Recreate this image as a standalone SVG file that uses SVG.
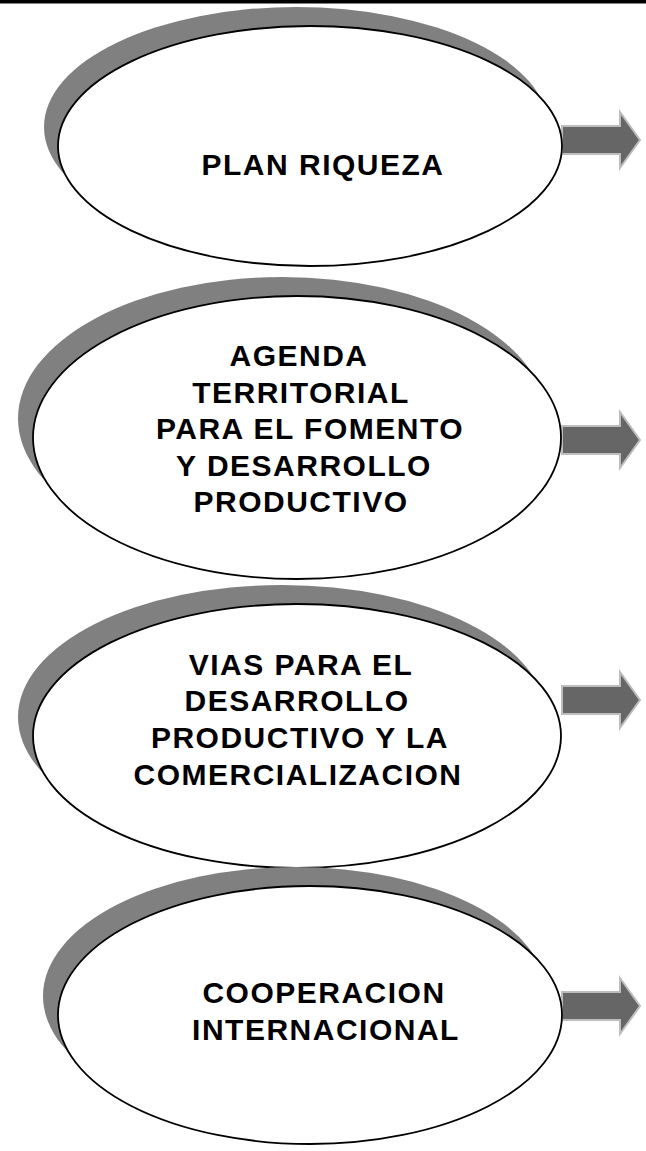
<svg xmlns="http://www.w3.org/2000/svg" width="646" height="1151" viewBox="0 0 646 1151">
<style>
.shadow{fill:#808080;stroke:none}
.main{fill:#ffffff;stroke:#000000;stroke-width:1.8}
.arrow{fill:#666666;stroke:#bdbdbd;stroke-width:2;stroke-linejoin:miter}
.lbl{font-family:"Liberation Sans",Arial,sans-serif;font-weight:bold;font-size:30px;letter-spacing:1.5px;fill:#000;text-anchor:middle}
</style>
<rect x="0" y="0" width="646" height="1151" fill="#ffffff"/>
<line x1="0" y1="1.7" x2="646" y2="1.7" stroke="#000" stroke-width="3.4"/>
<g id="connectors">
<path class="arrow" d="M562,126 H620 V112 L640,140 L620,168 V154 H562 Z"/>
<path class="arrow" d="M562,426 H620 V412 L640,440 L620,468 V454 H562 Z"/>
<path class="arrow" d="M562,686 H620 V672 L640,700 L620,728 V714 H562 Z"/>
<path class="arrow" d="M562,992 H620 V978 L640,1006 L620,1034 V1020 H562 Z"/>
</g>
<g id="node1">
<ellipse class="shadow" cx="296" cy="127" rx="252" ry="120"/>
<ellipse class="main" cx="310" cy="146" rx="252" ry="120"/>
<text class="lbl" x="323" y="175">PLAN RIQUEZA</text>
</g>
<g id="node2">
<ellipse class="shadow" cx="282" cy="418.5" rx="264" ry="141.5"/>
<ellipse class="main" cx="297" cy="437.5" rx="264" ry="141.5"/>
<text class="lbl" x="299" y="366">AGENDA</text>
<text class="lbl" x="301" y="403">TERRITORIAL</text>
<text class="lbl" x="310" y="439">PARA EL FOMENTO</text>
<text class="lbl" x="304" y="476">Y DESARROLLO</text>
<text class="lbl" x="301" y="512">PRODUCTIVO</text>
</g>
<g id="node3">
<ellipse class="shadow" cx="282" cy="717" rx="264" ry="132"/>
<ellipse class="main" cx="297" cy="736" rx="264" ry="132"/>
<text class="lbl" x="301" y="675">VIAS PARA EL</text>
<text class="lbl" x="297" y="711">DESARROLLO</text>
<text class="lbl" x="300" y="748">PRODUCTIVO Y LA</text>
<text class="lbl" x="298" y="785">COMERCIALIZACION</text>
</g>
<g id="node4">
<ellipse class="shadow" cx="295" cy="996" rx="252" ry="129"/>
<ellipse class="main" cx="310" cy="1015" rx="252" ry="129"/>
<text class="lbl" x="324" y="1003">COOPERACION</text>
<text class="lbl" x="326" y="1040">INTERNACIONAL</text>
</g>
</svg>
